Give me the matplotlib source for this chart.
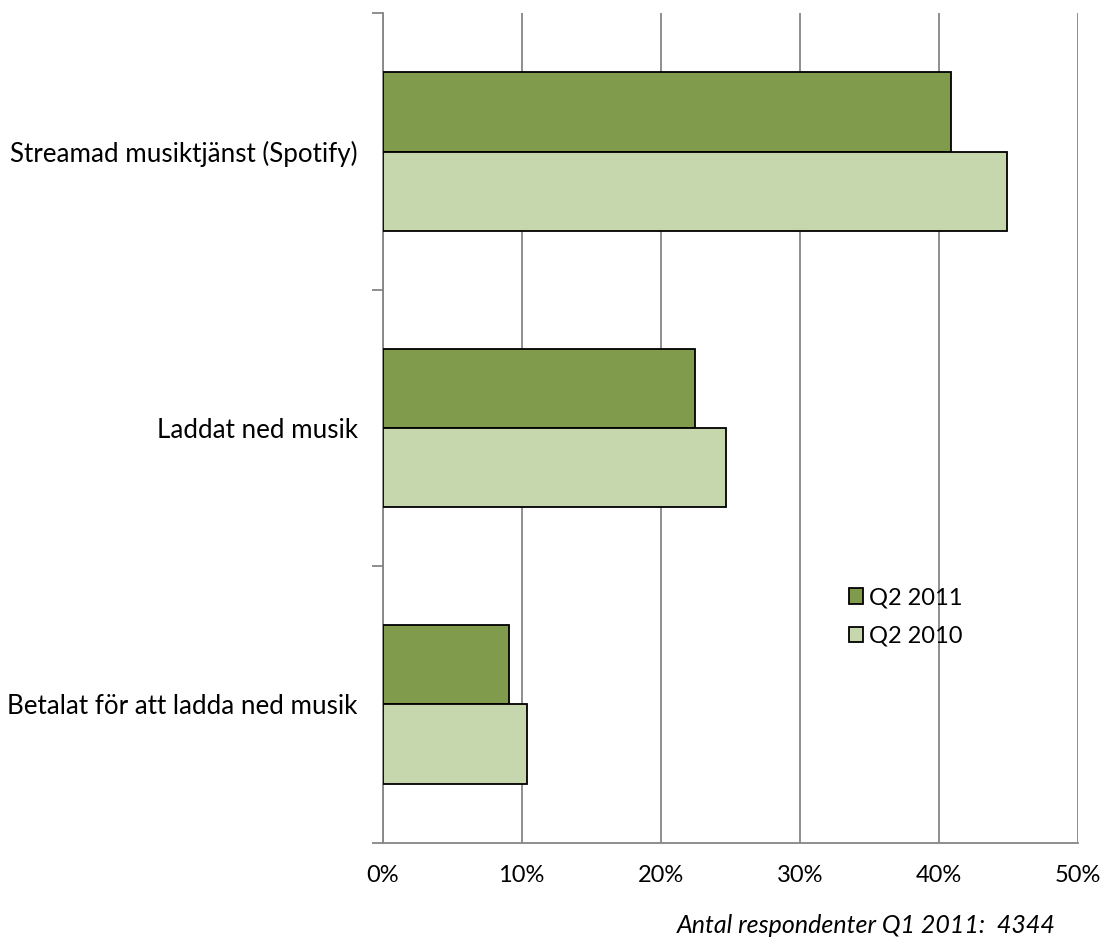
import numpy as np
import matplotlib.pyplot as plt
from matplotlib.patches import Patch

plt.rcParams['font.family'] = ['Lato', 'DejaVu Sans']

# Data
categories = ['Streamad musiktjänst (Spotify)', 'Laddat ned musik', 'Betalat för att ladda ned musik']
q2_2011 = [40.9, 22.5, 9.1]
q2_2010 = [44.9, 24.7, 10.4]
series_names = ['Q2 2011', 'Q2 2010']
colors = ['#7f9b4b', '#c6d6ad']
xticks = [0, 10, 20, 30, 40, 50]

fig = plt.figure(figsize=(11.05, 9.41), dpi=100)
ax = fig.add_axes([0.3463, 0.1045, 0.629, 0.8814])

pos = np.arange(len(categories))[::-1]
h = 0.286
ax.barh(pos + h / 2, q2_2011, height=h, color=colors[0], edgecolor='black', linewidth=1.3, zorder=3)
ax.barh(pos - h / 2, q2_2010, height=h, color=colors[1], edgecolor='black', linewidth=1.3, zorder=3)

ax.set_xlim(0, 50)
ax.set_ylim(-0.5, 2.5)
ax.set_xticks(xticks)
ax.set_xticklabels([f'{t}%' for t in xticks], fontsize=17)
ax.set_yticks(pos)
ax.set_yticklabels(categories, fontsize=18.7)
ax.tick_params(axis='y', length=0, pad=18)
ax.tick_params(axis='x', length=0, pad=16)

# category boundary ticks on y axis
ax.set_yticks([-0.5, 0.5, 1.5, 2.5], minor=True)
ax.tick_params(axis='y', which='minor', length=8, color='#868686', width=1.3, direction='out')
ax.set_xticks(xticks, minor=True)
ax.tick_params(axis='x', which='minor', length=8, color='#868686', width=1.3, direction='out')

ax.grid(axis='x', color='#868686', linewidth=1.3, zorder=0)
for s in ['top', 'right']:
    ax.spines[s].set_visible(False)
for s in ['left', 'bottom']:
    ax.spines[s].set_color('#868686')
    ax.spines[s].set_linewidth(1.3)

handles = [Patch(facecolor=c, edgecolor='black', linewidth=1.3) for c in colors]
ax.legend(handles, series_names, loc='center left', bbox_to_anchor=(0.64, 0.272),
          frameon=False, fontsize=17, handlelength=0.62, handleheight=0.62,
          handletextpad=0.25, labelspacing=0.75)

fig.text(0.955, 0.008, 'Antal respondenter Q1 2011:  4344', ha='right', va='baseline',
         fontsize=18, style='italic')

fig.savefig('out.png', dpi=100)
